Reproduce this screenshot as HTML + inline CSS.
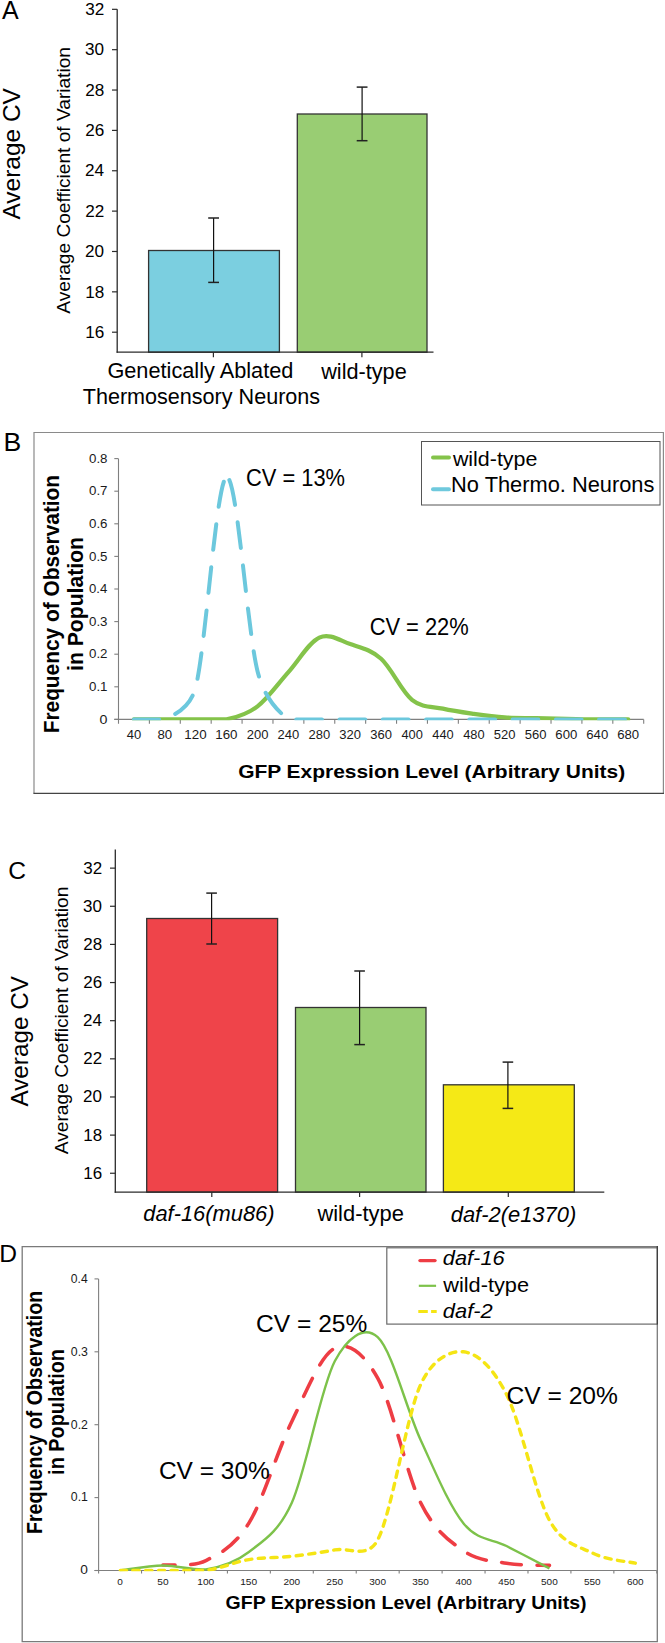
<!DOCTYPE html>
<html><head><meta charset="utf-8"><title>Figure</title>
<style>html,body{margin:0;padding:0;background:#fff;} svg{display:block;} text{font-family:"Liberation Sans",sans-serif;}</style>
</head><body>
<svg width="665" height="1643" viewBox="0 0 665 1643">
<rect x="0" y="0" width="665" height="1643" fill="#fff"/>
<rect x="148.60" y="250.50" width="130.80" height="101.70" fill="#7bcfe0" stroke="#333" stroke-width="1.3"/>
<rect x="297.30" y="114.00" width="129.70" height="238.20" fill="#99cd73" stroke="#333" stroke-width="1.3"/>
<line x1="117.20" y1="9.30" x2="117.20" y2="352.80" stroke="#2b2b2b" stroke-width="1.3"/>
<line x1="116.60" y1="352.20" x2="433.50" y2="352.20" stroke="#2b2b2b" stroke-width="1.3"/>
<line x1="112.00" y1="332.20" x2="117.20" y2="332.20" stroke="#2b2b2b" stroke-width="1.2"/>
<line x1="112.00" y1="291.84" x2="117.20" y2="291.84" stroke="#2b2b2b" stroke-width="1.2"/>
<line x1="112.00" y1="251.48" x2="117.20" y2="251.48" stroke="#2b2b2b" stroke-width="1.2"/>
<line x1="112.00" y1="211.12" x2="117.20" y2="211.12" stroke="#2b2b2b" stroke-width="1.2"/>
<line x1="112.00" y1="170.76" x2="117.20" y2="170.76" stroke="#2b2b2b" stroke-width="1.2"/>
<line x1="112.00" y1="130.40" x2="117.20" y2="130.40" stroke="#2b2b2b" stroke-width="1.2"/>
<line x1="112.00" y1="90.04" x2="117.20" y2="90.04" stroke="#2b2b2b" stroke-width="1.2"/>
<line x1="112.00" y1="49.68" x2="117.20" y2="49.68" stroke="#2b2b2b" stroke-width="1.2"/>
<line x1="112.00" y1="9.32" x2="117.20" y2="9.32" stroke="#2b2b2b" stroke-width="1.2"/>
<line x1="213.40" y1="352.20" x2="213.40" y2="357.20" stroke="#2b2b2b" stroke-width="1.2"/>
<line x1="361.90" y1="352.20" x2="361.90" y2="357.20" stroke="#2b2b2b" stroke-width="1.2"/>
<line x1="213.60" y1="218.00" x2="213.60" y2="282.40" stroke="#111" stroke-width="1.2"/>
<line x1="208.20" y1="218.00" x2="219.00" y2="218.00" stroke="#222" stroke-width="1.5"/>
<line x1="208.20" y1="282.40" x2="219.00" y2="282.40" stroke="#222" stroke-width="1.5"/>
<line x1="362.10" y1="87.10" x2="362.10" y2="140.70" stroke="#111" stroke-width="1.2"/>
<line x1="356.70" y1="87.10" x2="367.50" y2="87.10" stroke="#222" stroke-width="1.5"/>
<line x1="356.70" y1="140.70" x2="367.50" y2="140.70" stroke="#222" stroke-width="1.5"/>
<path d="M34.0,793.3 L34.0,432.5 L663.4,432.5 L663.4,793.3" fill="none" stroke="#8a8a8a" stroke-width="1.2"/>
<line x1="33.40" y1="793.30" x2="664.00" y2="793.30" stroke="#444" stroke-width="1.2"/>
<line x1="118.50" y1="458.70" x2="118.50" y2="723.80" stroke="#7f7f7f" stroke-width="1.1"/>
<line x1="114.30" y1="719.40" x2="643.70" y2="719.40" stroke="#7f7f7f" stroke-width="1.1"/>
<line x1="114.30" y1="719.40" x2="118.50" y2="719.40" stroke="#7f7f7f" stroke-width="1.1"/>
<line x1="114.30" y1="686.80" x2="118.50" y2="686.80" stroke="#7f7f7f" stroke-width="1.1"/>
<line x1="114.30" y1="654.20" x2="118.50" y2="654.20" stroke="#7f7f7f" stroke-width="1.1"/>
<line x1="114.30" y1="621.60" x2="118.50" y2="621.60" stroke="#7f7f7f" stroke-width="1.1"/>
<line x1="114.30" y1="589.00" x2="118.50" y2="589.00" stroke="#7f7f7f" stroke-width="1.1"/>
<line x1="114.30" y1="556.40" x2="118.50" y2="556.40" stroke="#7f7f7f" stroke-width="1.1"/>
<line x1="114.30" y1="523.80" x2="118.50" y2="523.80" stroke="#7f7f7f" stroke-width="1.1"/>
<line x1="114.30" y1="491.20" x2="118.50" y2="491.20" stroke="#7f7f7f" stroke-width="1.1"/>
<line x1="114.30" y1="458.60" x2="118.50" y2="458.60" stroke="#7f7f7f" stroke-width="1.1"/>
<line x1="149.39" y1="719.40" x2="149.39" y2="723.80" stroke="#7f7f7f" stroke-width="1.1"/>
<line x1="180.29" y1="719.40" x2="180.29" y2="723.80" stroke="#7f7f7f" stroke-width="1.1"/>
<line x1="211.18" y1="719.40" x2="211.18" y2="723.80" stroke="#7f7f7f" stroke-width="1.1"/>
<line x1="242.08" y1="719.40" x2="242.08" y2="723.80" stroke="#7f7f7f" stroke-width="1.1"/>
<line x1="272.97" y1="719.40" x2="272.97" y2="723.80" stroke="#7f7f7f" stroke-width="1.1"/>
<line x1="303.86" y1="719.40" x2="303.86" y2="723.80" stroke="#7f7f7f" stroke-width="1.1"/>
<line x1="334.76" y1="719.40" x2="334.76" y2="723.80" stroke="#7f7f7f" stroke-width="1.1"/>
<line x1="365.65" y1="719.40" x2="365.65" y2="723.80" stroke="#7f7f7f" stroke-width="1.1"/>
<line x1="396.55" y1="719.40" x2="396.55" y2="723.80" stroke="#7f7f7f" stroke-width="1.1"/>
<line x1="427.44" y1="719.40" x2="427.44" y2="723.80" stroke="#7f7f7f" stroke-width="1.1"/>
<line x1="458.34" y1="719.40" x2="458.34" y2="723.80" stroke="#7f7f7f" stroke-width="1.1"/>
<line x1="489.23" y1="719.40" x2="489.23" y2="723.80" stroke="#7f7f7f" stroke-width="1.1"/>
<line x1="520.12" y1="719.40" x2="520.12" y2="723.80" stroke="#7f7f7f" stroke-width="1.1"/>
<line x1="551.02" y1="719.40" x2="551.02" y2="723.80" stroke="#7f7f7f" stroke-width="1.1"/>
<line x1="581.91" y1="719.40" x2="581.91" y2="723.80" stroke="#7f7f7f" stroke-width="1.1"/>
<line x1="612.81" y1="719.40" x2="612.81" y2="723.80" stroke="#7f7f7f" stroke-width="1.1"/>
<line x1="643.70" y1="719.40" x2="643.70" y2="723.80" stroke="#7f7f7f" stroke-width="1.1"/>
<clipPath id="cpB"><rect x="118" y="440" width="540" height="280.2"/></clipPath>
<g clip-path="url(#cpB)" fill="none" stroke-linejoin="round">
<path d="M133.95,719.40 C139.10,719.40 154.54,719.40 164.84,719.40 C175.14,719.40 185.44,719.40 195.74,719.40 C206.03,719.40 216.33,719.40 226.63,719.40 C236.93,717.23 247.23,714.24 257.52,706.36 C267.82,698.48 278.12,683.59 288.42,672.13 C298.72,660.67 309.01,642.25 319.31,637.57 C329.61,632.90 339.91,640.56 350.21,644.09 C360.50,647.63 370.80,649.47 381.10,658.76 C391.40,668.06 401.70,691.53 411.99,699.84 C422.29,708.15 432.59,706.31 442.89,708.64 C453.19,710.98 463.48,712.39 473.78,713.86 C484.08,715.32 494.38,716.74 504.68,717.44 C514.97,718.15 525.27,717.88 535.57,718.10 C545.87,718.31 556.17,718.53 566.46,718.75 C576.76,718.97 587.06,719.29 597.36,719.40 C607.66,719.40 623.10,719.40 628.25,719.40" stroke="#84c34a" stroke-width="4.2" stroke-linecap="round"/>
<path d="M133.95,719.40 C139.10,719.40 154.54,719.40 164.84,719.40 C175.14,713.97 190.18,708.56 195.74,686.80 C206.03,646.43 216.33,479.79 226.63,477.18" stroke="#6cc8dd" stroke-width="4.0" stroke-linecap="round" stroke-dasharray="25.7 17.57" stroke-dashoffset="0.6"/>
<path d="M226.63,477.18 C236.93,474.57 247.23,630.78 257.52,671.15 C264.60,698.91 278.12,711.36 288.42,719.40 C298.72,719.40 309.01,719.40 319.31,719.40 C329.61,719.40 339.91,719.40 350.21,719.40 C360.50,719.40 370.80,719.40 381.10,719.40 C391.40,719.40 401.70,719.40 411.99,719.40 C422.29,719.40 432.59,719.40 442.89,719.40 C453.19,719.40 463.48,719.40 473.78,719.40 C484.08,719.40 494.38,719.40 504.68,719.40 C514.97,719.40 525.27,719.40 535.57,719.40 C545.87,719.40 556.17,719.40 566.46,719.40 C576.76,719.40 587.06,719.40 597.36,719.40 C607.66,719.40 623.10,719.40 628.25,719.40" stroke="#6cc8dd" stroke-width="4.0" stroke-linecap="round" stroke-dasharray="25.7 17.57" stroke-dashoffset="-4.25"/>
</g>
<rect x="421.50" y="441.50" width="238.50" height="63.50" fill="#fff" stroke="#555" stroke-width="1.0"/>
<line x1="433" y1="457.6" x2="449" y2="457.6" stroke="#84c34a" stroke-width="4" stroke-linecap="round"/>
<line x1="433" y1="489.3" x2="449" y2="489.3" stroke="#6fc9dd" stroke-width="4" stroke-linecap="round"/>
<rect x="146.70" y="918.50" width="130.90" height="273.60" fill="#ef444a" stroke="#333" stroke-width="1.3"/>
<rect x="295.50" y="1007.50" width="130.50" height="184.60" fill="#99cd73" stroke="#333" stroke-width="1.3"/>
<rect x="443.40" y="1084.80" width="130.90" height="107.30" fill="#f5e916" stroke="#333" stroke-width="1.3"/>
<line x1="115.30" y1="849.50" x2="115.30" y2="1192.70" stroke="#2b2b2b" stroke-width="1.3"/>
<line x1="114.70" y1="1192.10" x2="604.30" y2="1192.10" stroke="#2b2b2b" stroke-width="1.3"/>
<line x1="110.00" y1="1173.25" x2="115.30" y2="1173.25" stroke="#2b2b2b" stroke-width="1.2"/>
<line x1="110.00" y1="1135.11" x2="115.30" y2="1135.11" stroke="#2b2b2b" stroke-width="1.2"/>
<line x1="110.00" y1="1096.97" x2="115.30" y2="1096.97" stroke="#2b2b2b" stroke-width="1.2"/>
<line x1="110.00" y1="1058.83" x2="115.30" y2="1058.83" stroke="#2b2b2b" stroke-width="1.2"/>
<line x1="110.00" y1="1020.69" x2="115.30" y2="1020.69" stroke="#2b2b2b" stroke-width="1.2"/>
<line x1="110.00" y1="982.55" x2="115.30" y2="982.55" stroke="#2b2b2b" stroke-width="1.2"/>
<line x1="110.00" y1="944.41" x2="115.30" y2="944.41" stroke="#2b2b2b" stroke-width="1.2"/>
<line x1="110.00" y1="906.27" x2="115.30" y2="906.27" stroke="#2b2b2b" stroke-width="1.2"/>
<line x1="110.00" y1="868.13" x2="115.30" y2="868.13" stroke="#2b2b2b" stroke-width="1.2"/>
<line x1="211.80" y1="1192.10" x2="211.80" y2="1197.00" stroke="#2b2b2b" stroke-width="1.2"/>
<line x1="359.60" y1="1192.10" x2="359.60" y2="1197.00" stroke="#2b2b2b" stroke-width="1.2"/>
<line x1="508.30" y1="1192.10" x2="508.30" y2="1197.00" stroke="#2b2b2b" stroke-width="1.2"/>
<line x1="211.60" y1="893.10" x2="211.60" y2="944.00" stroke="#111" stroke-width="1.2"/>
<line x1="206.30" y1="893.10" x2="216.90" y2="893.10" stroke="#222" stroke-width="1.5"/>
<line x1="206.30" y1="944.00" x2="216.90" y2="944.00" stroke="#222" stroke-width="1.5"/>
<line x1="359.60" y1="971.00" x2="359.60" y2="1044.60" stroke="#111" stroke-width="1.2"/>
<line x1="354.30" y1="971.00" x2="364.90" y2="971.00" stroke="#222" stroke-width="1.5"/>
<line x1="354.30" y1="1044.60" x2="364.90" y2="1044.60" stroke="#222" stroke-width="1.5"/>
<line x1="507.90" y1="1062.10" x2="507.90" y2="1108.40" stroke="#111" stroke-width="1.2"/>
<line x1="502.60" y1="1062.10" x2="513.20" y2="1062.10" stroke="#222" stroke-width="1.5"/>
<line x1="502.60" y1="1108.40" x2="513.20" y2="1108.40" stroke="#222" stroke-width="1.5"/>
<path d="M22.2,1641.7 L22.2,1246.6 L657.3,1246.6 L657.3,1641.7 Z" fill="none" stroke="#7a7a7a" stroke-width="1.3"/>
<line x1="98.60" y1="1278.90" x2="98.60" y2="1573.50" stroke="#7f7f7f" stroke-width="1.1"/>
<line x1="94.50" y1="1570.50" x2="656.80" y2="1570.50" stroke="#7f7f7f" stroke-width="1.1"/>
<line x1="94.50" y1="1570.50" x2="98.60" y2="1570.50" stroke="#7f7f7f" stroke-width="1.1"/>
<line x1="94.50" y1="1497.60" x2="98.60" y2="1497.60" stroke="#7f7f7f" stroke-width="1.1"/>
<line x1="94.50" y1="1424.70" x2="98.60" y2="1424.70" stroke="#7f7f7f" stroke-width="1.1"/>
<line x1="94.50" y1="1351.80" x2="98.60" y2="1351.80" stroke="#7f7f7f" stroke-width="1.1"/>
<line x1="94.50" y1="1278.90" x2="98.60" y2="1278.90" stroke="#7f7f7f" stroke-width="1.1"/>
<line x1="141.54" y1="1570.50" x2="141.54" y2="1573.50" stroke="#7f7f7f" stroke-width="1.1"/>
<line x1="184.48" y1="1570.50" x2="184.48" y2="1573.50" stroke="#7f7f7f" stroke-width="1.1"/>
<line x1="227.42" y1="1570.50" x2="227.42" y2="1573.50" stroke="#7f7f7f" stroke-width="1.1"/>
<line x1="270.35" y1="1570.50" x2="270.35" y2="1573.50" stroke="#7f7f7f" stroke-width="1.1"/>
<line x1="313.29" y1="1570.50" x2="313.29" y2="1573.50" stroke="#7f7f7f" stroke-width="1.1"/>
<line x1="356.23" y1="1570.50" x2="356.23" y2="1573.50" stroke="#7f7f7f" stroke-width="1.1"/>
<line x1="399.17" y1="1570.50" x2="399.17" y2="1573.50" stroke="#7f7f7f" stroke-width="1.1"/>
<line x1="442.11" y1="1570.50" x2="442.11" y2="1573.50" stroke="#7f7f7f" stroke-width="1.1"/>
<line x1="485.05" y1="1570.50" x2="485.05" y2="1573.50" stroke="#7f7f7f" stroke-width="1.1"/>
<line x1="527.98" y1="1570.50" x2="527.98" y2="1573.50" stroke="#7f7f7f" stroke-width="1.1"/>
<line x1="570.92" y1="1570.50" x2="570.92" y2="1573.50" stroke="#7f7f7f" stroke-width="1.1"/>
<line x1="613.86" y1="1570.50" x2="613.86" y2="1573.50" stroke="#7f7f7f" stroke-width="1.1"/>
<line x1="656.80" y1="1570.50" x2="656.80" y2="1573.50" stroke="#7f7f7f" stroke-width="1.1"/>
<clipPath id="cpD"><rect x="99" y="1250" width="560" height="321.2"/></clipPath>
<g clip-path="url(#cpD)" fill="none" stroke-linejoin="round">
<path d="M163.01,1565.03 C170.16,1564.28 191.63,1567.50 205.95,1560.51 C220.26,1553.53 234.57,1546.30 248.88,1523.12 C263.20,1499.93 277.51,1450.58 291.82,1421.42 C306.14,1392.26 320.45,1355.38 334.76,1348.15 C349.07,1340.93 364.99,1355.18 377.70,1378.04 C392.01,1403.80 406.33,1473.91 420.64,1502.70 C434.95,1531.50 449.26,1540.73 463.58,1550.82 C477.89,1560.90 492.20,1560.78 506.52,1563.21 C520.83,1565.64 542.30,1565.03 549.45,1565.40" stroke="#ee3d44" stroke-width="3.6" stroke-linecap="round" stroke-dasharray="19.8 15.5" stroke-dashoffset="7.5"/>
<path d="M120.07,1570.50 C127.23,1569.66 148.69,1565.65 163.01,1565.47 C177.32,1565.29 191.63,1570.50 205.95,1569.41 C220.26,1567.16 234.57,1563.10 248.88,1551.98 C263.20,1540.87 278.40,1532.50 291.82,1502.70 C306.14,1470.92 320.45,1388.86 334.76,1361.28 C346.10,1339.43 363.39,1324.10 377.70,1337.22 C392.01,1350.34 406.33,1408.97 420.64,1440.01 C434.95,1471.05 449.26,1505.81 463.58,1523.48 C477.89,1541.15 492.20,1538.53 506.52,1546.01 C520.83,1553.48 542.30,1564.60 549.45,1568.31" stroke="#7dc24a" stroke-width="2.4"/>
<path d="M120.07,1570.50 C127.23,1570.50 148.69,1570.50 163.01,1570.50 C177.32,1570.50 191.63,1570.50 205.95,1570.50 C220.26,1568.68 234.57,1561.93 248.88,1559.57 C263.20,1557.20 277.51,1557.90 291.82,1556.28 C306.14,1554.67 320.45,1552.60 334.76,1549.87 C349.07,1547.14 367.54,1559.44 377.70,1539.88 C392.01,1512.34 406.33,1415.95 420.64,1384.61 C431.86,1360.03 449.26,1350.17 463.58,1351.80 C477.89,1353.43 492.78,1367.44 506.52,1394.37 C520.83,1422.44 535.14,1493.76 549.45,1520.20 C562.32,1543.96 578.08,1545.84 592.39,1553.00 C606.71,1560.17 628.17,1561.51 635.33,1563.21" stroke="#f5e514" stroke-width="3.4" stroke-linecap="round" stroke-dasharray="6.2 6.47" stroke-dashoffset="-0.3"/>
</g>
<rect x="386.80" y="1247.80" width="270.50" height="76.30" fill="#fff" stroke="#6a6a6a" stroke-width="1.2"/>
<line x1="657.30" y1="1246.00" x2="657.30" y2="1324.60" stroke="#3a3a3a" stroke-width="1.2"/>
<line x1="420" y1="1260.6" x2="435" y2="1260.6" stroke="#ee3d44" stroke-width="3.4" stroke-linecap="round"/>
<line x1="418.80" y1="1285.80" x2="436.10" y2="1285.80" stroke="#7dc24a" stroke-width="2.2"/>
<line x1="418.3" y1="1311.4" x2="436.7" y2="1311.4" stroke="#f5e514" stroke-width="3" stroke-dasharray="9.5 3.3"/>
<text x="2.00" y="19.00" font-size="25" font-weight="400" font-style="normal" fill="#000" textLength="16.69" lengthAdjust="spacingAndGlyphs">A</text>
<text transform="translate(19.90,219.50) rotate(-90)" font-size="24.5" font-weight="400" font-style="normal" fill="#000" textLength="131.36" lengthAdjust="spacingAndGlyphs">Average CV</text>
<text transform="translate(69.90,313.70) rotate(-90)" font-size="19" font-weight="400" font-style="normal" fill="#000" textLength="266.62" lengthAdjust="spacingAndGlyphs">Average Coefficient of Variation</text>
<text x="85.21" y="337.90" font-size="16" font-weight="400" font-style="normal" fill="#000" textLength="19.04" lengthAdjust="spacingAndGlyphs">16</text>
<text x="85.21" y="297.54" font-size="16" font-weight="400" font-style="normal" fill="#000" textLength="19.04" lengthAdjust="spacingAndGlyphs">18</text>
<text x="84.94" y="257.18" font-size="16" font-weight="400" font-style="normal" fill="#000" textLength="19.04" lengthAdjust="spacingAndGlyphs">20</text>
<text x="85.21" y="216.82" font-size="16" font-weight="400" font-style="normal" fill="#000" textLength="19.04" lengthAdjust="spacingAndGlyphs">22</text>
<text x="84.94" y="176.46" font-size="16" font-weight="400" font-style="normal" fill="#000" textLength="19.04" lengthAdjust="spacingAndGlyphs">24</text>
<text x="85.21" y="136.10" font-size="16" font-weight="400" font-style="normal" fill="#000" textLength="19.04" lengthAdjust="spacingAndGlyphs">26</text>
<text x="85.21" y="95.74" font-size="16" font-weight="400" font-style="normal" fill="#000" textLength="19.04" lengthAdjust="spacingAndGlyphs">28</text>
<text x="84.94" y="55.38" font-size="16" font-weight="400" font-style="normal" fill="#000" textLength="19.04" lengthAdjust="spacingAndGlyphs">30</text>
<text x="85.21" y="15.02" font-size="16" font-weight="400" font-style="normal" fill="#000" textLength="19.04" lengthAdjust="spacingAndGlyphs">32</text>
<text x="107.40" y="378.20" font-size="21.8" font-weight="400" font-style="normal" fill="#000" textLength="185.95" lengthAdjust="spacingAndGlyphs">Genetically Ablated</text>
<text x="82.71" y="404.20" font-size="21.8" font-weight="400" font-style="normal" fill="#000" textLength="237.46" lengthAdjust="spacingAndGlyphs">Thermosensory Neurons</text>
<text x="321.20" y="378.60" font-size="21.8" font-weight="400" font-style="normal" fill="#000" textLength="85.51" lengthAdjust="spacingAndGlyphs">wild-type</text>
<text x="452.90" y="465.60" font-size="21" font-weight="400" font-style="normal" fill="#000" textLength="84.49" lengthAdjust="spacingAndGlyphs">wild-type</text>
<text x="451.12" y="491.90" font-size="21.5" font-weight="400" font-style="normal" fill="#000" textLength="203.25" lengthAdjust="spacingAndGlyphs">No Thermo. Neurons</text>
<text x="246.03" y="485.80" font-size="23.3" font-weight="400" font-style="normal" fill="#000" textLength="99.02" lengthAdjust="spacingAndGlyphs">CV = 13%</text>
<text x="369.63" y="634.80" font-size="23.3" font-weight="400" font-style="normal" fill="#000" textLength="99.12" lengthAdjust="spacingAndGlyphs">CV = 22%</text>
<text x="3.47" y="450.60" font-size="25" font-weight="400" font-style="normal" fill="#000" textLength="17.76" lengthAdjust="spacingAndGlyphs">B</text>
<text transform="translate(58.90,733.32) rotate(-90)" font-size="22" font-weight="700" font-style="normal" fill="#000" textLength="258.43" lengthAdjust="spacingAndGlyphs">Frequency of Observation</text>
<text transform="translate(82.50,670.98) rotate(-90)" font-size="21.5" font-weight="700" font-style="normal" fill="#000" textLength="133.96" lengthAdjust="spacingAndGlyphs">in Population</text>
<text x="99.47" y="723.60" font-size="13.4" font-weight="400" font-style="normal" fill="#1a1a1a" textLength="7.91" lengthAdjust="spacingAndGlyphs">0</text>
<text x="89.00" y="691.00" font-size="13.4" font-weight="400" font-style="normal" fill="#1a1a1a" textLength="18.52" lengthAdjust="spacingAndGlyphs">0.1</text>
<text x="89.00" y="658.40" font-size="13.4" font-weight="400" font-style="normal" fill="#1a1a1a" textLength="18.52" lengthAdjust="spacingAndGlyphs">0.2</text>
<text x="89.00" y="625.80" font-size="13.4" font-weight="400" font-style="normal" fill="#1a1a1a" textLength="18.52" lengthAdjust="spacingAndGlyphs">0.3</text>
<text x="89.01" y="593.20" font-size="13.4" font-weight="400" font-style="normal" fill="#1a1a1a" textLength="18.26" lengthAdjust="spacingAndGlyphs">0.4</text>
<text x="89.00" y="560.60" font-size="13.4" font-weight="400" font-style="normal" fill="#1a1a1a" textLength="18.52" lengthAdjust="spacingAndGlyphs">0.5</text>
<text x="89.00" y="528.00" font-size="13.4" font-weight="400" font-style="normal" fill="#1a1a1a" textLength="18.52" lengthAdjust="spacingAndGlyphs">0.6</text>
<text x="89.00" y="495.40" font-size="13.4" font-weight="400" font-style="normal" fill="#1a1a1a" textLength="18.52" lengthAdjust="spacingAndGlyphs">0.7</text>
<text x="89.00" y="462.80" font-size="13.4" font-weight="400" font-style="normal" fill="#1a1a1a" textLength="18.52" lengthAdjust="spacingAndGlyphs">0.8</text>
<text x="126.81" y="738.75" font-size="12.3" font-weight="400" font-style="normal" fill="#1a1a1a" textLength="14.48" lengthAdjust="spacingAndGlyphs">40</text>
<text x="157.43" y="738.75" font-size="12.3" font-weight="400" font-style="normal" fill="#1a1a1a" textLength="14.76" lengthAdjust="spacingAndGlyphs">80</text>
<text x="184.35" y="738.75" font-size="12.3" font-weight="400" font-style="normal" fill="#1a1a1a" textLength="22.26" lengthAdjust="spacingAndGlyphs">120</text>
<text x="215.25" y="738.75" font-size="12.3" font-weight="400" font-style="normal" fill="#1a1a1a" textLength="22.26" lengthAdjust="spacingAndGlyphs">160</text>
<text x="246.70" y="738.75" font-size="12.3" font-weight="400" font-style="normal" fill="#1a1a1a" textLength="21.69" lengthAdjust="spacingAndGlyphs">200</text>
<text x="277.59" y="738.75" font-size="12.3" font-weight="400" font-style="normal" fill="#1a1a1a" textLength="21.69" lengthAdjust="spacingAndGlyphs">240</text>
<text x="308.48" y="738.75" font-size="12.3" font-weight="400" font-style="normal" fill="#1a1a1a" textLength="21.69" lengthAdjust="spacingAndGlyphs">280</text>
<text x="339.38" y="738.75" font-size="12.3" font-weight="400" font-style="normal" fill="#1a1a1a" textLength="21.69" lengthAdjust="spacingAndGlyphs">320</text>
<text x="370.27" y="738.75" font-size="12.3" font-weight="400" font-style="normal" fill="#1a1a1a" textLength="21.69" lengthAdjust="spacingAndGlyphs">360</text>
<text x="401.43" y="738.75" font-size="12.3" font-weight="400" font-style="normal" fill="#1a1a1a" textLength="21.41" lengthAdjust="spacingAndGlyphs">400</text>
<text x="432.33" y="738.75" font-size="12.3" font-weight="400" font-style="normal" fill="#1a1a1a" textLength="21.41" lengthAdjust="spacingAndGlyphs">440</text>
<text x="463.22" y="738.75" font-size="12.3" font-weight="400" font-style="normal" fill="#1a1a1a" textLength="21.41" lengthAdjust="spacingAndGlyphs">480</text>
<text x="493.85" y="738.75" font-size="12.3" font-weight="400" font-style="normal" fill="#1a1a1a" textLength="21.69" lengthAdjust="spacingAndGlyphs">520</text>
<text x="524.74" y="738.75" font-size="12.3" font-weight="400" font-style="normal" fill="#1a1a1a" textLength="21.69" lengthAdjust="spacingAndGlyphs">560</text>
<text x="555.36" y="738.75" font-size="12.3" font-weight="400" font-style="normal" fill="#1a1a1a" textLength="21.97" lengthAdjust="spacingAndGlyphs">600</text>
<text x="586.26" y="738.75" font-size="12.3" font-weight="400" font-style="normal" fill="#1a1a1a" textLength="21.97" lengthAdjust="spacingAndGlyphs">640</text>
<text x="617.15" y="738.75" font-size="12.3" font-weight="400" font-style="normal" fill="#1a1a1a" textLength="21.97" lengthAdjust="spacingAndGlyphs">680</text>
<text x="238.15" y="778.10" font-size="18.5" font-weight="700" font-style="normal" fill="#000" textLength="387.00" lengthAdjust="spacingAndGlyphs">GFP Expression Level (Arbitrary Units)</text>
<text x="8.16" y="878.70" font-size="23" font-weight="400" font-style="normal" fill="#000" textLength="17.77" lengthAdjust="spacingAndGlyphs">C</text>
<text transform="translate(28.10,1106.60) rotate(-90)" font-size="24" font-weight="400" font-style="normal" fill="#000" textLength="130.52" lengthAdjust="spacingAndGlyphs">Average CV</text>
<text transform="translate(68.10,1154.30) rotate(-90)" font-size="19" font-weight="400" font-style="normal" fill="#000" textLength="267.72" lengthAdjust="spacingAndGlyphs">Average Coefficient of Variation</text>
<text x="83.38" y="1178.75" font-size="16" font-weight="400" font-style="normal" fill="#000" textLength="18.86" lengthAdjust="spacingAndGlyphs">16</text>
<text x="83.38" y="1140.61" font-size="16" font-weight="400" font-style="normal" fill="#000" textLength="18.86" lengthAdjust="spacingAndGlyphs">18</text>
<text x="83.11" y="1102.47" font-size="16" font-weight="400" font-style="normal" fill="#000" textLength="18.86" lengthAdjust="spacingAndGlyphs">20</text>
<text x="83.38" y="1064.33" font-size="16" font-weight="400" font-style="normal" fill="#000" textLength="18.86" lengthAdjust="spacingAndGlyphs">22</text>
<text x="83.11" y="1026.19" font-size="16" font-weight="400" font-style="normal" fill="#000" textLength="18.86" lengthAdjust="spacingAndGlyphs">24</text>
<text x="83.38" y="988.05" font-size="16" font-weight="400" font-style="normal" fill="#000" textLength="18.86" lengthAdjust="spacingAndGlyphs">26</text>
<text x="83.38" y="949.91" font-size="16" font-weight="400" font-style="normal" fill="#000" textLength="18.86" lengthAdjust="spacingAndGlyphs">28</text>
<text x="83.11" y="911.77" font-size="16" font-weight="400" font-style="normal" fill="#000" textLength="18.86" lengthAdjust="spacingAndGlyphs">30</text>
<text x="83.38" y="873.63" font-size="16" font-weight="400" font-style="normal" fill="#000" textLength="18.86" lengthAdjust="spacingAndGlyphs">32</text>
<text x="143.25" y="1221.40" font-size="22" font-weight="400" font-style="italic" fill="#000" textLength="131.27" lengthAdjust="spacingAndGlyphs">daf-16(mu86)</text>
<text x="317.40" y="1221.20" font-size="22" font-weight="400" font-style="normal" fill="#000" textLength="86.46" lengthAdjust="spacingAndGlyphs">wild-type</text>
<text x="450.75" y="1221.80" font-size="22" font-weight="400" font-style="italic" fill="#000" textLength="125.48" lengthAdjust="spacingAndGlyphs">daf-2(e1370)</text>
<text x="442.82" y="1265.20" font-size="21" font-weight="400" font-style="italic" fill="#000" textLength="61.83" lengthAdjust="spacingAndGlyphs">daf-16</text>
<text x="443.20" y="1291.60" font-size="20.5" font-weight="400" font-style="normal" fill="#000" textLength="85.85" lengthAdjust="spacingAndGlyphs">wild-type</text>
<text x="442.82" y="1317.70" font-size="21" font-weight="400" font-style="italic" fill="#000" textLength="49.87" lengthAdjust="spacingAndGlyphs">daf-2</text>
<text x="256.12" y="1332.00" font-size="24" font-weight="400" font-style="normal" fill="#000" textLength="111.18" lengthAdjust="spacingAndGlyphs">CV = 25%</text>
<text x="158.92" y="1479.10" font-size="24" font-weight="400" font-style="normal" fill="#000" textLength="110.98" lengthAdjust="spacingAndGlyphs">CV = 30%</text>
<text x="506.52" y="1403.90" font-size="24" font-weight="400" font-style="normal" fill="#000" textLength="111.39" lengthAdjust="spacingAndGlyphs">CV = 20%</text>
<text x="-0.85" y="1261.90" font-size="24" font-weight="400" font-style="normal" fill="#000" textLength="17.77" lengthAdjust="spacingAndGlyphs">D</text>
<text transform="translate(42.30,1534.04) rotate(-90)" font-size="22" font-weight="700" font-style="normal" fill="#000" textLength="243.37" lengthAdjust="spacingAndGlyphs">Frequency of Observation</text>
<text transform="translate(64.30,1474.89) rotate(-90)" font-size="21.5" font-weight="700" font-style="normal" fill="#000" textLength="125.89" lengthAdjust="spacingAndGlyphs">in Population</text>
<text x="80.27" y="1574.30" font-size="13" font-weight="400" font-style="normal" fill="#1a1a1a" textLength="7.64" lengthAdjust="spacingAndGlyphs">0</text>
<text x="70.83" y="1501.40" font-size="13" font-weight="400" font-style="normal" fill="#1a1a1a" textLength="17.12" lengthAdjust="spacingAndGlyphs">0.1</text>
<text x="70.83" y="1428.50" font-size="13" font-weight="400" font-style="normal" fill="#1a1a1a" textLength="17.12" lengthAdjust="spacingAndGlyphs">0.2</text>
<text x="70.83" y="1355.60" font-size="13" font-weight="400" font-style="normal" fill="#1a1a1a" textLength="17.12" lengthAdjust="spacingAndGlyphs">0.3</text>
<text x="70.83" y="1282.70" font-size="13" font-weight="400" font-style="normal" fill="#1a1a1a" textLength="16.87" lengthAdjust="spacingAndGlyphs">0.4</text>
<text x="117.17" y="1585.25" font-size="9.5" font-weight="400" font-style="normal" fill="#1a1a1a" textLength="5.59" lengthAdjust="spacingAndGlyphs">0</text>
<text x="157.27" y="1585.25" font-size="9.5" font-weight="400" font-style="normal" fill="#1a1a1a" textLength="11.28" lengthAdjust="spacingAndGlyphs">50</text>
<text x="197.24" y="1585.25" font-size="9.5" font-weight="400" font-style="normal" fill="#1a1a1a" textLength="16.99" lengthAdjust="spacingAndGlyphs">100</text>
<text x="240.18" y="1585.25" font-size="9.5" font-weight="400" font-style="normal" fill="#1a1a1a" textLength="16.99" lengthAdjust="spacingAndGlyphs">150</text>
<text x="283.40" y="1585.25" font-size="9.5" font-weight="400" font-style="normal" fill="#1a1a1a" textLength="16.71" lengthAdjust="spacingAndGlyphs">200</text>
<text x="326.33" y="1585.25" font-size="9.5" font-weight="400" font-style="normal" fill="#1a1a1a" textLength="16.71" lengthAdjust="spacingAndGlyphs">250</text>
<text x="369.27" y="1585.25" font-size="9.5" font-weight="400" font-style="normal" fill="#1a1a1a" textLength="16.71" lengthAdjust="spacingAndGlyphs">300</text>
<text x="412.21" y="1585.25" font-size="9.5" font-weight="400" font-style="normal" fill="#1a1a1a" textLength="16.71" lengthAdjust="spacingAndGlyphs">350</text>
<text x="455.42" y="1585.25" font-size="9.5" font-weight="400" font-style="normal" fill="#1a1a1a" textLength="16.43" lengthAdjust="spacingAndGlyphs">400</text>
<text x="498.36" y="1585.25" font-size="9.5" font-weight="400" font-style="normal" fill="#1a1a1a" textLength="16.43" lengthAdjust="spacingAndGlyphs">450</text>
<text x="541.03" y="1585.25" font-size="9.5" font-weight="400" font-style="normal" fill="#1a1a1a" textLength="16.71" lengthAdjust="spacingAndGlyphs">500</text>
<text x="583.97" y="1585.25" font-size="9.5" font-weight="400" font-style="normal" fill="#1a1a1a" textLength="16.71" lengthAdjust="spacingAndGlyphs">550</text>
<text x="626.90" y="1585.25" font-size="9.5" font-weight="400" font-style="normal" fill="#1a1a1a" textLength="16.71" lengthAdjust="spacingAndGlyphs">600</text>
<text x="225.53" y="1609.40" font-size="19" font-weight="700" font-style="normal" fill="#000" textLength="361.10" lengthAdjust="spacingAndGlyphs">GFP Expression Level (Arbitrary Units)</text>
</svg>
</body></html>
